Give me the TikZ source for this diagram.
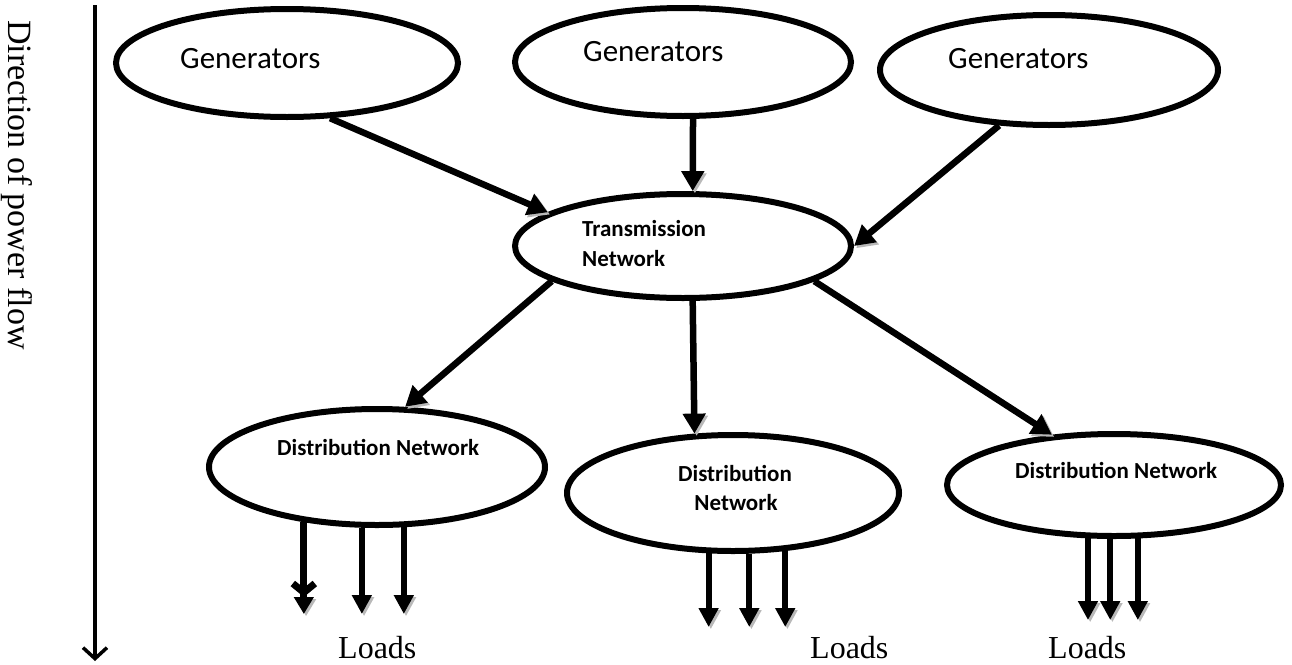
\documentclass[tikz,border=0pt]{standalone}
\usepackage{fontspec}
\setmainfont{Liberation Serif}
\newfontfamily\labelfont{Carlito}
\usetikzlibrary{shapes.geometric,arrows.meta,calc}

\begin{document}
\begin{tikzpicture}[x=1pt,y=-1pt,
  blob/.style={ellipse,draw,line width=6pt,inner sep=0pt,outer sep=3pt},
  gentext/.style={anchor=base west,inner sep=0pt,font=\labelfont\fontsize{31}{36}\selectfont},
  nettext/.style={anchor=base west,inner sep=0pt,font=\labelfont\bfseries\fontsize{23}{28}\selectfont},
  loadtext/.style={anchor=base west,inner sep=0pt,font=\fontsize{32}{38}\selectfont},
  shade/.style={preaction={draw=gray!55,transform canvas={xshift=2.2pt,yshift=-2.2pt}}},
  flow/.style={line width=6.5pt,-{Triangle[length=20pt,width=22pt]},shade},
  load/.style={line width=6pt,-{Triangle[length=19pt,width=19pt]},shade},
  axis/.style={line width=3.5pt,-{Straight Barb[length=11pt,width=24pt]}}
]
\useasboundingbox (0,0) rectangle (1292,664);

% ellipses
\node[blob,minimum width=342pt,minimum height=108pt] (g1) at (287,63) {};
\node[blob,minimum width=336pt,minimum height=108pt] (g2) at (683,62) {};
\node[blob,minimum width=338pt,minimum height=110pt] (g3) at (1049,70) {};
\node[blob,minimum width=336pt,minimum height=104pt] (tr) at (683,246) {};
\node[blob,minimum width=336pt,minimum height=116pt] (d1) at (377,467) {};
\node[blob,minimum width=332pt,minimum height=116pt] (d2) at (733,493) {};
\node[blob,minimum width=334pt,minimum height=102pt] (d3) at (1114,485) {};

% labels inside the ellipses
\node[gentext] (g1t) at (180,68) {Generators};
\node[gentext] (g2t) at (583,61) {Generators};
\node[gentext] (g3t) at (948,68) {Generators};
\node[nettext] (trt1) at (582,236) {Transmission};
\node[nettext] (trt2) at (582,266) {Network};
\node[nettext] (d1t) at (277,455) {Distribution Network};
\node[nettext,anchor=base] (d2t1) at (735,481) {Distribution};
\node[nettext,anchor=base] (d2t2) at (736,510) {Network};
\node[nettext] (d3t) at (1015,478) {Distribution Network};

% power flow between the networks
\draw[flow] (g1.-52) -- (tr.166.5);
\draw[flow] (g2.-80) -- (tr.80);
\draw[flow] (g3.-132) -- (tr.0);
\draw[flow] (tr.-165.6) -- (d1.65);
\draw[flow] (tr.-80) -- (d2.123.7);
\draw[flow] (tr.-15.5) -- (d3.141.6);

% feeders to the loads
\coordinate (d1tip) at (0,614);
\coordinate (d2tip) at (0,627);
\coordinate (d3tip) at (0,620);
\draw[line width=7pt,-{Straight Barb[length=9pt,width=22pt] Triangle[length=17pt,width=19pt]},shade] (d1.-143) -- (d1.-143 |- d1tip);
\draw[load] (d1.-104) -- (d1.-104 |- d1tip);
\draw[load] (d1.-66.3) -- (d1.-66.3 |- d1tip);
\draw[load] (d2.-112) -- (d2.-112 |- d2tip);
\draw[load] (d2.-75) -- (d2.-75 |- d2tip);
\draw[load] (d2.-48.9) -- (d2.-48.9 |- d2tip);
\draw[load] (d3.-116.4) -- (d3.-116.4 |- d3tip);
\draw[load] (d3.-94.3) -- (d3.-94.3 |- d3tip);
\draw[load] (d3.-66.3) -- (d3.-66.3 |- d3tip);

\node[loadtext] (l1) at (338,658) {Loads};
\node[loadtext] (l2) at (810,658) {Loads};
\node[loadtext] (l3) at (1048,658) {Loads};

% overall direction
\coordinate (flowtop) at (95,5);
\coordinate (flowend) at (95,661);
\draw[axis] (flowtop) -- (flowend);
\node[rotate=-90,anchor=west,inner sep=0pt,font=\fontsize{34}{40}\selectfont] (dir) at (17,20) {Direction of power flow};
\end{tikzpicture}
\end{document}
